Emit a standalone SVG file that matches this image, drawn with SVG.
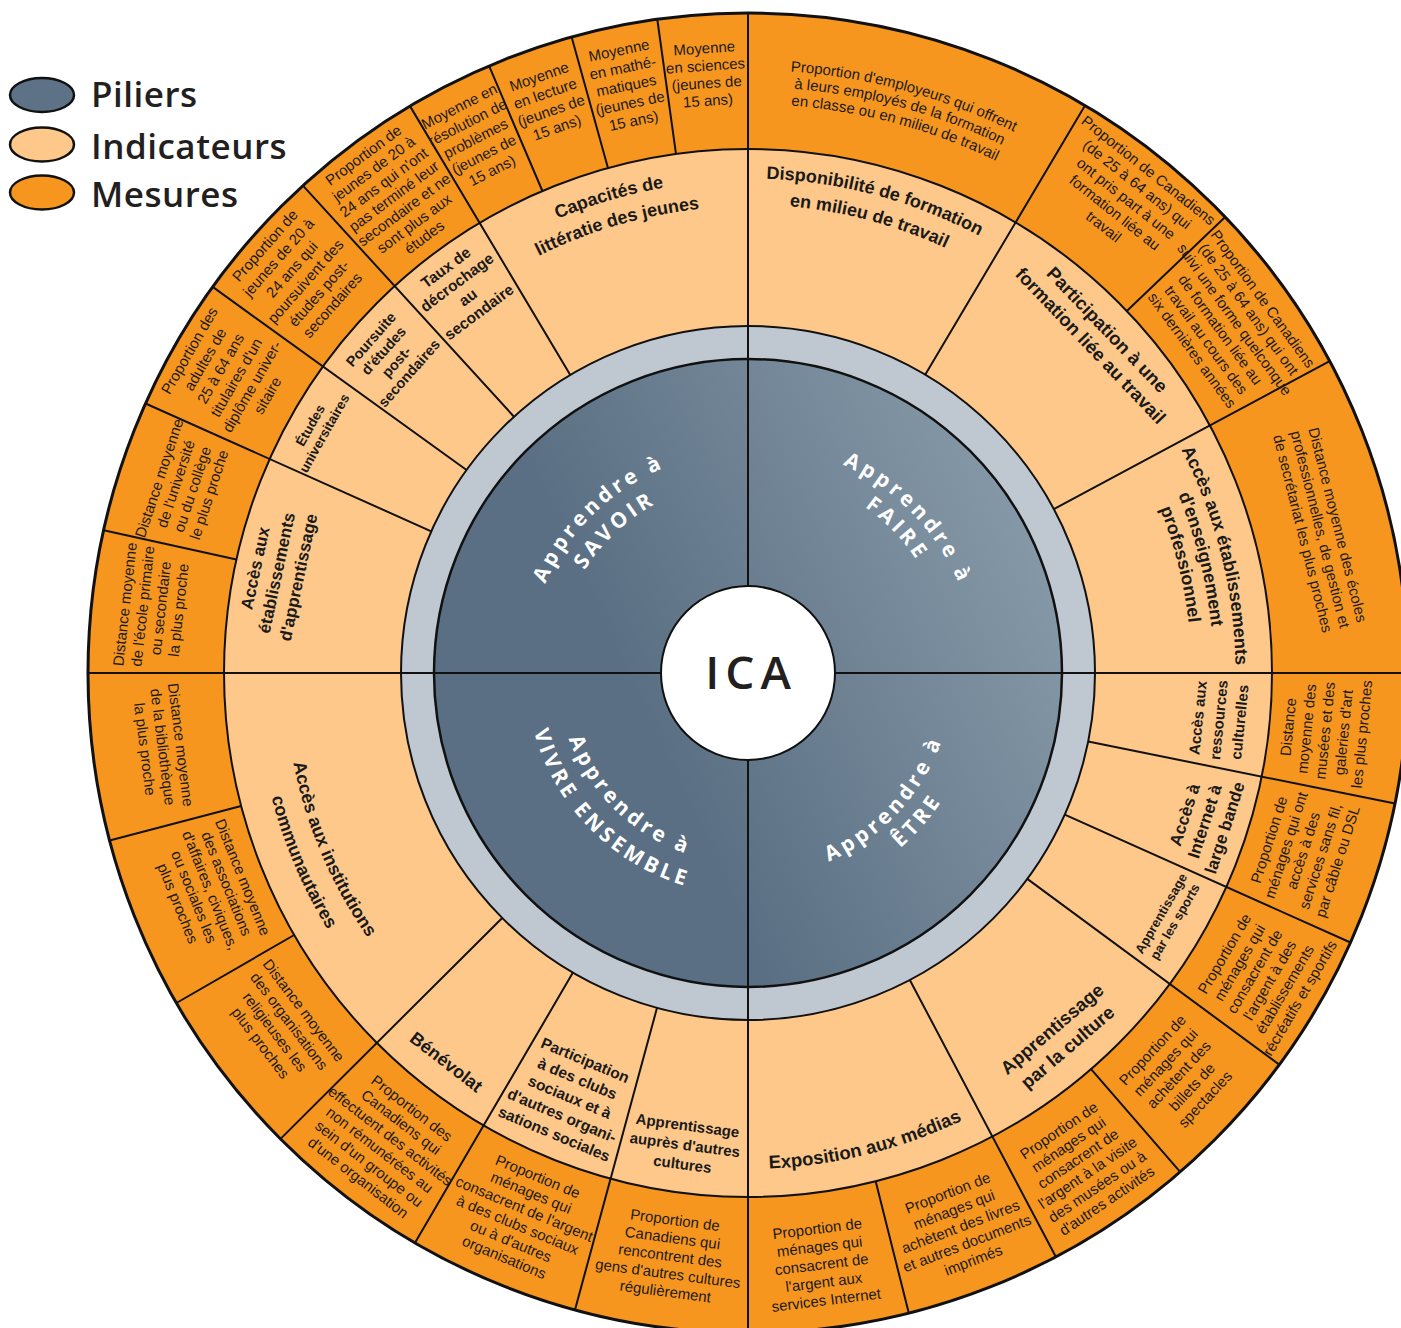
<svg xmlns="http://www.w3.org/2000/svg" width="1401" height="1328" viewBox="0 0 1401 1328">
<defs>
<linearGradient id="pil" x1="0.95" y1="0.2" x2="0.3" y2="0.5">
<stop offset="0" stop-color="#879aa9"/>
<stop offset="1" stop-color="#5a6f83"/>
</linearGradient>
<style>
.m{font-family:"Liberation Sans",Arial,sans-serif;font-size:15px;fill:#1a1a1a;text-anchor:middle}
.i{font-family:"Liberation Sans",Arial,sans-serif;font-weight:bold;fill:#1a1a1a;text-anchor:middle}
.p{font-family:"Open Sans",sans-serif;font-weight:700;fill:#ffffff;font-size:21px;letter-spacing:3.8px;text-anchor:middle}
.lg{font-family:"Open Sans",sans-serif;font-weight:600;font-size:35px;letter-spacing:0.5px;fill:#231f20}
.ln{stroke:#111;stroke-width:2;fill:none}
</style>
<path id="pSav1" d="M533.3,727.5 A222,222 0 0 1 809.2,459.6"/>
<path id="pSav2" d="M560,716.4 A193,193 0 0 1 804.4,488.4"/>
<path id="pFai1" d="M692.6,450.8 A229,229 0 0 1 968.1,736.1"/>
<path id="pFai2" d="M698.9,476.0 A203,203 0 0 1 943.1,729"/>
<path id="pEtr1" d="M702.7,873.0 A205,205 0 0 0 943.8,612.2"/>
<path id="pEtr2" d="M703.7,900.7 A232,232 0 0 0 967.4,597.5"/>
<path id="pViv1" d="M562.7,626.8 A191,191 0 0 0 800.6,856.6"/>
<path id="pViv2" d="M533.9,614.5 A222,222 0 0 0 804.4,887.7"/>
<path id="pCap1" d="M338.3,399.7 A492.5,492.5 0 0 1 946,222"/>
<path id="pCap2" d="M359.9,414.2 A466.5,466.5 0 0 1 935.5,245.8"/>
<path id="pDis1" d="M539,224.8 A494.5,494.5 0 0 1 1153.1,389.4"/>
<path id="pDis2" d="M550,248.4 A468.5,468.5 0 0 1 1131.8,404.3"/>
<path id="pPro1" d="M1033.9,278.1 A487.5,487.5 0 0 1 1186.6,885.9"/>
<path id="pPro2" d="M1021,295.9 A465.5,465.5 0 0 1 1166.8,876.3"/>
<path id="pPro3" d="M1008,313.7 A443.5,443.5 0 0 1 1147,866.7"/>
<path id="pExp" d="M530.6,1118.8 A496,496 0 0 0 1149.3,964.5"/>
<path id="pCom1" d="M304.8,537.5 A463.5,463.5 0 0 0 537.6,1086"/>
<path id="pCom2" d="M277,529 A492.5,492.5 0 0 0 524.4,1111.8"/>
<path id="pEmp1" d="M494.1,126.1 A603,603 0 0 1 1242.6,328"/>
<path id="pEmp2" d="M501.3,141.5 A586,586 0 0 1 1228.6,337.7"/>
<path id="pEmp3" d="M508.4,156.9 A569,569 0 0 1 1214.7,347.4"/>
</defs>
<rect width="1401" height="1328" fill="#ffffff"/>

<g id="legend">
<ellipse cx="42" cy="95" rx="32" ry="17" fill="#5d7286" stroke="#111" stroke-width="2.5"/>
<ellipse cx="42" cy="144.5" rx="32" ry="17" fill="#fec88b" stroke="#111" stroke-width="2.5"/>
<ellipse cx="42" cy="192.5" rx="32" ry="17" fill="#f7961e" stroke="#111" stroke-width="2.5"/>
<text class="lg" x="91" y="107">Piliers</text>
<text class="lg" x="91" y="159">Indicateurs</text>
<text class="lg" x="91" y="207">Mesures</text>
</g>

<g id="rings">
<circle cx="748" cy="673" r="660" fill="#f7961e"/>
<circle cx="748" cy="673" r="524" fill="#fec88b" stroke="#111" stroke-width="2"/>
<circle cx="748" cy="673" r="347" fill="#bfc8d1" stroke="#111" stroke-width="2"/>
<circle cx="748" cy="673" r="314" fill="url(#pil)" stroke="#111" stroke-width="2.5"/>
</g>

<g id="connectors">
<path class="ln" d="M748,13 V1333 M88,673 H1408"/>
<path class="ln" d="M236.42,559.59 L103.64,530.15 M431.25,531.31 L145.53,403.5 M466.56,470.02 L212.7,286.93 M514.02,416.75 L302.96,185.62 M570.29,374.96 L409.99,106.12 M542.41,191.01 L489.06,65.92 M607.97,168.06 L571.62,37 M675.98,153.97 L657.29,19.26"/>
<path class="ln" d="M925.18,374.64 L1085,105.52 M1126.84,310.98 L1225.16,217.02 M1053.81,509.03 L1329.66,361.12"/>
<path class="ln" d="M1088.15,741.59 L1394.98,803.46 M1064.75,814.69 L1350.47,942.5 M1027.3,878.92 L1279.23,1064.66 M1091.08,1069.07 L1180.13,1171.86 M909.83,979.95 L1055.81,1256.82 M875.66,1181.21 L908.79,1313.11"/>
<path class="ln" d="M657.02,1007.86 L574.95,1309.91 M572.93,972.6 L415.01,1242.84 M502.21,917.94 L280.5,1138.87 M294.2,935 L176.42,1003 M241.15,805.97 L109.6,840.48"/>
<circle cx="748" cy="673" r="660" fill="none" stroke="#111" stroke-width="3"/>
</g>

<g id="ica">
<circle cx="748" cy="673" r="87" fill="#ffffff" stroke="#111" stroke-width="2"/>
<text x="751" y="689" font-family="Open Sans, sans-serif" font-weight="600" font-size="46" letter-spacing="6" text-anchor="middle" fill="#231f20">ICA</text>
</g>

<g id="pilier-savoir"><text class="p"><textPath href="#pSav1" startOffset="50%">Apprendre à</textPath></text><text class="p"><textPath href="#pSav2" startOffset="50%">SAVOIR</textPath></text></g>
<g id="pilier-faire"><text class="p"><textPath href="#pFai1" startOffset="50%">Apprendre à</textPath></text><text class="p"><textPath href="#pFai2" startOffset="50%">FAIRE</textPath></text></g>
<g id="pilier-etre"><text class="p"><textPath href="#pEtr1" startOffset="50%">Apprendre à</textPath></text><text class="p"><textPath href="#pEtr2" startOffset="50%">ÊTRE</textPath></text></g>
<g id="pilier-vivre"><text class="p"><textPath href="#pViv1" startOffset="50%">Apprendre à</textPath></text><text class="p"><textPath href="#pViv2" startOffset="50%">VIVRE ENSEMBLE</textPath></text></g>

<g id="ind-acces-apprentissage" transform="translate(276.5,572.8) rotate(-78)"><text class="i" font-size="17"><tspan x="0" dy="-16">Accès aux</tspan><tspan x="0" dy="22">établissements</tspan><tspan x="0" dy="22">d'apprentissage</tspan></text></g>
<g id="ind-etudes-univ" transform="translate(317.2,429.3) rotate(-60.5)"><text class="i" font-size="13.5"><tspan x="0" dy="-3.3">Études</tspan><tspan x="0" dy="16">universitaires</tspan></text></g>
<g id="ind-poursuite" transform="translate(390,356.3) rotate(-48.5)"><text class="i" font-size="14.5"><tspan x="0" dy="-20.5">Poursuite</tspan><tspan x="0" dy="17">d'études</tspan><tspan x="0" dy="17">post-</tspan><tspan x="0" dy="17">secondaires</tspan></text></g>
<g id="ind-decrochage" transform="translate(462.3,289.7) rotate(-36.7)"><text class="i" font-size="15.5"><tspan x="0" dy="-22.3">Taux de</tspan><tspan x="0" dy="18.5">décrochage</tspan><tspan x="0" dy="18.5">au</tspan><tspan x="0" dy="18.5">secondaire</tspan></text></g>
<g id="ind-capacites"><text class="i" font-size="18"><textPath href="#pCap1" startOffset="50%">Capacités de</textPath></text><text class="i" font-size="18"><textPath href="#pCap2" startOffset="50%">littératie des jeunes</textPath></text></g>
<g id="ind-disponibilite"><text class="i" font-size="18"><textPath href="#pDis1" startOffset="50%">Disponibilité de formation</textPath></text><text class="i" font-size="18"><textPath href="#pDis2" startOffset="50%">en milieu de travail</textPath></text></g>
<g id="ind-participation-formation" transform="translate(1099,337.6) rotate(46.3)"><text class="i" font-size="18.5"><tspan x="0" dy="-5">Participation à une</tspan><tspan x="0" dy="23">formation liée au travail</tspan></text></g>
<g id="ind-acces-professionnel"><text class="i" font-size="18"><textPath href="#pPro1" startOffset="50%">Accès aux établissements</textPath></text><text class="i" font-size="18"><textPath href="#pPro2" startOffset="50%">d'enseignement</textPath></text><text class="i" font-size="18"><textPath href="#pPro3" startOffset="50%">professionnel</textPath></text></g>
<g id="ind-ressources-culturelles" transform="translate(1218.7,720) rotate(-84.3)"><text class="i" font-size="15"><tspan x="0" dy="-15.75">Accès aux</tspan><tspan x="0" dy="21">ressources</tspan><tspan x="0" dy="21">culturelles</tspan></text></g>
<g id="ind-internet" transform="translate(1204.5,821.3) rotate(-72)"><text class="i" font-size="17"><tspan x="0" dy="-15">Accès à</tspan><tspan x="0" dy="21">Internet à</tspan><tspan x="0" dy="21">large bande</tspan></text></g>
<g id="ind-sports" transform="translate(1168,917.5) rotate(-59.8)"><text class="i" font-size="13"><tspan x="0" dy="-3.5">Apprentissage</tspan><tspan x="0" dy="16">par les sports</tspan></text></g>
<g id="ind-culture" transform="translate(1059.7,1038) rotate(-40.5)"><text class="i" font-size="18.5"><tspan x="0" dy="-5.5">Apprentissage</tspan><tspan x="0" dy="24">par la culture</tspan></text></g>
<g id="ind-medias"><text class="i" font-size="18.5"><textPath href="#pExp" startOffset="50%">Exposition aux médias</textPath></text></g>
<g id="ind-autres-cultures" transform="translate(685,1144.8) rotate(7.6)"><text class="i" font-size="15"><tspan x="0" dy="-14.25">Apprentissage</tspan><tspan x="0" dy="19.5">auprès d'autres</tspan><tspan x="0" dy="19.5">cultures</tspan></text></g>
<g id="ind-clubs" transform="translate(569.7,1097) rotate(22.8)"><text class="i" font-size="15.5"><tspan x="0" dy="-34.6">Participation</tspan><tspan x="0" dy="20">à des clubs</tspan><tspan x="0" dy="20">sociaux et à</tspan><tspan x="0" dy="20">d'autres organi-</tspan><tspan x="0" dy="20">sations sociales</tspan></text></g>
<g id="ind-benevolat" transform="translate(446.4,1061.8) rotate(37.8)"><text class="i" font-size="18"><tspan x="0" dy="6.3">Bénévolat</tspan></text></g>
<g id="ind-institutions"><text class="i" font-size="18"><textPath href="#pCom1" startOffset="50%">Accès aux institutions</textPath></text><text class="i" font-size="18"><textPath href="#pCom2" startOffset="50%">communautaires</textPath></text></g>

<g id="mes-ecole" transform="translate(151.6,607.2) rotate(-83.7)"><text class="m"><tspan x="0" dy="-21.75">Distance moyenne</tspan><tspan x="0" dy="18">de l'école primaire</tspan><tspan x="0" dy="18">ou secondaire</tspan><tspan x="0" dy="18">la plus proche</tspan></text></g>
<g id="mes-universite" transform="translate(184,486.5) rotate(-71.7)"><text class="m"><tspan x="0" dy="-21">Distance moyenne</tspan><tspan x="0" dy="17.5">de l'université</tspan><tspan x="0" dy="17.5">ou du collège</tspan><tspan x="0" dy="17.5">le plus proche</tspan></text></g>
<g id="mes-diplome" transform="translate(228.4,373) rotate(-60)"><text class="m"><tspan x="0" dy="-39.75">Proportion des</tspan><tspan x="0" dy="18">adultes de</tspan><tspan x="0" dy="18">25 à 64 ans</tspan><tspan x="0" dy="18">titulaires d'un</tspan><tspan x="0" dy="18">diplôme univer-</tspan><tspan x="0" dy="18">sitaire</tspan></text></g>
<g id="mes-postsec" transform="translate(298.6,275.4) rotate(-48.5)"><text class="m"><tspan x="0" dy="-39.75">Proportion de</tspan><tspan x="0" dy="18">jeunes de 20 à</tspan><tspan x="0" dy="18">24 ans qui</tspan><tspan x="0" dy="18">poursuivent des</tspan><tspan x="0" dy="18">études post-</tspan><tspan x="0" dy="18">secondaires</tspan></text></g>
<g id="mes-decrochage" transform="translate(393.8,196.1) rotate(-36.6)"><text class="m"><tspan x="0" dy="-45.75">Proportion de</tspan><tspan x="0" dy="17">jeunes de 20 à</tspan><tspan x="0" dy="17">24 ans qui n'ont</tspan><tspan x="0" dy="17">pas terminé leur</tspan><tspan x="0" dy="17">secondaire et ne</tspan><tspan x="0" dy="17">sont plus aux</tspan><tspan x="0" dy="17">études</tspan></text></g>
<g id="mes-resolution" transform="translate(475.6,138.4) rotate(-27)"><text class="m"><tspan x="0" dy="-30.75">Moyenne en</tspan><tspan x="0" dy="18">résolution de</tspan><tspan x="0" dy="18">problèmes</tspan><tspan x="0" dy="18">(jeunes de</tspan><tspan x="0" dy="18">15 ans)</tspan></text></g>
<g id="mes-lecture" transform="translate(548,102) rotate(-19.3)"><text class="m"><tspan x="0" dy="-21.75">Moyenne</tspan><tspan x="0" dy="18">en lecture</tspan><tspan x="0" dy="18">(jeunes de</tspan><tspan x="0" dy="18">15 ans)</tspan></text></g>
<g id="mes-math" transform="translate(626.3,85.5) rotate(-11.7)"><text class="m"><tspan x="0" dy="-30.75">Moyenne</tspan><tspan x="0" dy="18">en mathé-</tspan><tspan x="0" dy="18">matiques</tspan><tspan x="0" dy="18">(jeunes de</tspan><tspan x="0" dy="18">15 ans)</tspan></text></g>
<g id="mes-sciences" transform="translate(706.1,74.5) rotate(-4)"><text class="m" font-size="14.5"><tspan x="0" dy="-21.15">Moyenne</tspan><tspan x="0" dy="17.5">en sciences</tspan><tspan x="0" dy="17.5">(jeunes de</tspan><tspan x="0" dy="17.5">15 ans)</tspan></text></g>
<g id="mes-employeurs"><text class="m"><textPath href="#pEmp1" startOffset="50%">Proportion d'employeurs qui offrent</textPath></text><text class="m"><textPath href="#pEmp2" startOffset="50%">à leurs employés de la formation</textPath></text><text class="m"><textPath href="#pEmp3" startOffset="50%">en classe ou en milieu de travail</textPath></text></g>
<g id="mes-formation-liee" transform="translate(1126,198.5) rotate(38.5)"><text class="m" font-size="14.2"><tspan x="0" dy="-30.9">Proportion de Canadiens</tspan><tspan x="0" dy="18">(de 25 à 64 ans) qui</tspan><tspan x="0" dy="18">ont pris part à une</tspan><tspan x="0" dy="18">formation liée au</tspan><tspan x="0" dy="18">travail</tspan></text></g>
<g id="mes-forme-quelconque" transform="translate(1226.9,325) rotate(54)"><text class="m" font-size="12.8"><tspan x="0" dy="-39.25">Proportion de Canadiens</tspan><tspan x="0" dy="17.5">(de 25 à 64 ans) qui ont</tspan><tspan x="0" dy="17.5">suivi une forme quelconque</tspan><tspan x="0" dy="17.5">de formation liée au</tspan><tspan x="0" dy="17.5">travail au cours des</tspan><tspan x="0" dy="17.5">six dernières années</tspan></text></g>
<g id="mes-ecoles-pro" transform="translate(1320.2,529.3) rotate(75.9)"><text class="m" font-size="14.5"><tspan x="0" dy="-12.9">Distance moyenne des écoles</tspan><tspan x="0" dy="18">professionnelles, de gestion et</tspan><tspan x="0" dy="18">de secrétariat les plus proches</tspan></text></g>
<g id="mes-musees-distance" transform="translate(1325.1,730.6) rotate(-84.3)"><text class="m" font-size="14.5"><tspan x="0" dy="-31.9">Distance</tspan><tspan x="0" dy="18.5">moyenne des</tspan><tspan x="0" dy="18.5">musées et des</tspan><tspan x="0" dy="18.5">galeries d'art</tspan><tspan x="0" dy="18.5">les plus proches</tspan></text></g>
<g id="mes-internet-acces" transform="translate(1303.3,850.7) rotate(-72.25)"><text class="m" font-size="14.5"><tspan x="0" dy="-30.9">Proportion de</tspan><tspan x="0" dy="18">ménages qui ont</tspan><tspan x="0" dy="18">accès à des</tspan><tspan x="0" dy="18">services sans fil,</tspan><tspan x="0" dy="18">par câble ou DSL</tspan></text></g>
<g id="mes-sports" transform="translate(1262.4,976) rotate(-59.5)"><text class="m" font-size="14"><tspan x="0" dy="-38.85">Proportion de</tspan><tspan x="0" dy="17.5">ménages qui</tspan><tspan x="0" dy="17.5">consacrent de</tspan><tspan x="0" dy="17.5">l'argent à des</tspan><tspan x="0" dy="17.5">établissements</tspan><tspan x="0" dy="17.5">récréatifs et sportifs</tspan></text></g>
<g id="mes-spectacles" transform="translate(1178.8,1074.7) rotate(-47)"><text class="m" font-size="14.5"><tspan x="0" dy="-30.9">Proportion de</tspan><tspan x="0" dy="18">ménages qui</tspan><tspan x="0" dy="18">achètent des</tspan><tspan x="0" dy="18">billets de</tspan><tspan x="0" dy="18">spectacles</tspan></text></g>
<g id="mes-musees-visite" transform="translate(1083,1165.9) rotate(-34.2)"><text class="m" font-size="14"><tspan x="0" dy="-37.6">Proportion de</tspan><tspan x="0" dy="17">ménages qui</tspan><tspan x="0" dy="17">consacrent de</tspan><tspan x="0" dy="17">l'argent à la visite</tspan><tspan x="0" dy="17">des musées ou à</tspan><tspan x="0" dy="17">d'autres activités</tspan></text></g>
<g id="mes-livres" transform="translate(960.5,1226.6) rotate(-21)"><text class="m" font-size="14.5"><tspan x="0" dy="-30.9">Proportion de</tspan><tspan x="0" dy="18">ménages qui</tspan><tspan x="0" dy="18">achètent des livres</tspan><tspan x="0" dy="18">et autres documents</tspan><tspan x="0" dy="18">imprimés</tspan></text></g>
<g id="mes-internet-services" transform="translate(821.7,1264.4) rotate(-7.1)"><text class="m" font-size="14.5"><tspan x="0" dy="-30.9">Proportion de</tspan><tspan x="0" dy="18">ménages qui</tspan><tspan x="0" dy="18">consacrent de</tspan><tspan x="0" dy="18">l'argent aux</tspan><tspan x="0" dy="18">services Internet</tspan></text></g>
<g id="mes-cultures" transform="translate(670.2,1255.8) rotate(7.6)"><text class="m" font-size="14.5"><tspan x="0" dy="-30.9">Proportion de</tspan><tspan x="0" dy="18">Canadiens qui</tspan><tspan x="0" dy="18">rencontrent des</tspan><tspan x="0" dy="18">gens d'autres cultures</tspan><tspan x="0" dy="18">régulièrement</tspan></text></g>
<g id="mes-clubs" transform="translate(521,1217) rotate(22.7)"><text class="m" font-size="14"><tspan x="0" dy="-38.65">Proportion de</tspan><tspan x="0" dy="17.5">ménages qui</tspan><tspan x="0" dy="17.5">consacrent de l'argent</tspan><tspan x="0" dy="17.5">à des clubs sociaux</tspan><tspan x="0" dy="17.5">ou à d'autres</tspan><tspan x="0" dy="17.5">organisations</tspan></text></g>
<g id="mes-benevolat" transform="translate(385,1143) rotate(37.7)"><text class="m" font-size="14"><tspan x="0" dy="-38.65">Proportion des</tspan><tspan x="0" dy="17.5">Canadiens qui</tspan><tspan x="0" dy="17.5">effectuent des activités</tspan><tspan x="0" dy="17.5">non rémunérées au</tspan><tspan x="0" dy="17.5">sein d'un groupe ou</tspan><tspan x="0" dy="17.5">d'une organisation</tspan></text></g>
<g id="mes-religieuses" transform="translate(282,1026.7) rotate(52.8)"><text class="m" font-size="14.5"><tspan x="0" dy="-21.9">Distance moyenne</tspan><tspan x="0" dy="18">des organisations</tspan><tspan x="0" dy="18">religieuses les</tspan><tspan x="0" dy="18">plus proches</tspan></text></g>
<g id="mes-associations" transform="translate(210.2,890.3) rotate(68)"><text class="m" font-size="14.5"><tspan x="0" dy="-29.9">Distance moyenne</tspan><tspan x="0" dy="17.5">des associations</tspan><tspan x="0" dy="17.5">d'affaires, civiques,</tspan><tspan x="0" dy="17.5">ou sociales les</tspan><tspan x="0" dy="17.5">plus proches</tspan></text></g>
<g id="mes-bibliotheque" transform="translate(162.7,746.9) rotate(82.8)"><text class="m" font-size="14.5"><tspan x="0" dy="-12.9">Distance moyenne</tspan><tspan x="0" dy="18">de la bibliothèque</tspan><tspan x="0" dy="18">la plus proche</tspan></text></g>
</svg>
